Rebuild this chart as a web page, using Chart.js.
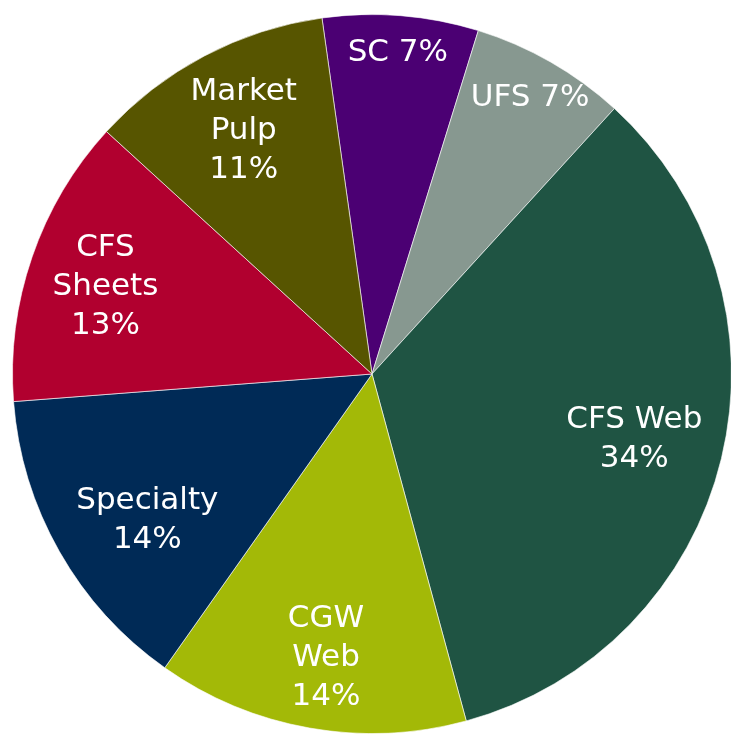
<!DOCTYPE html>
<html>
<head>
<meta charset="utf-8">
<script src="https://cdn.jsdelivr.net/npm/chart.js@4/dist/chart.umd.min.js"></script>
<style>
  html, body { margin: 0; padding: 0; background: #ffffff; overflow: hidden; width: 731px; height: 734px; }
  #wrap { position: absolute; left: 0; top: 0; width: 744px; height: 748px; }
</style>
</head>
<body>
<div id="wrap"><canvas id="c"></canvas></div>
<script>
// Categories (clockwise, starting with SC at the top)
const categories = ["SC", "UFS", "CFS Web", "CGW Web", "Specialty", "CFS Sheets", "Market Pulp"];
// Share of total (%)
const shares = [7, 7, 34, 14, 14, 13, 11];
// How each category name is wrapped in its slice label
const labelLines = [["SC"], ["UFS"], ["CFS Web"], ["CGW", "Web"], ["Specialty"], ["CFS", "Sheets"], ["Market", "Pulp"]];
// Whether the percentage goes on the same line as the name
const pctInline = [true, true, false, false, false, false, false];

const colors = ["#4B0073", "#879890", "#1F5443", "#A3B907", "#002A56", "#B1002F", "#575500"];
const labelRadius = [0.895, 0.885, 0.752, 0.80, 0.746, 0.78, 0.765];
const labelAngleShift = [0, 0, 0.4, -0.8, -3.5, -0.9, 0]; // degrees

const sliceLabels = {
  id: 'sliceLabels',
  afterDatasetsDraw(chart) {
    const ctx = chart.ctx;
    const meta = chart.getDatasetMeta(0);
    ctx.save();
    ctx.fillStyle = '#ffffff';
    ctx.font = '31px "DejaVu Sans", Verdana, sans-serif';
    ctx.textAlign = 'center';
    ctx.textBaseline = 'middle';
    const lh = 39;
    meta.data.forEach((arc, i) => {
      const p = arc.getProps(['x', 'y', 'startAngle', 'endAngle', 'outerRadius'], true);
      const mid = (p.startAngle + p.endAngle) / 2 + labelAngleShift[i] * Math.PI / 180;
      const r = p.outerRadius * labelRadius[i];
      const cx = p.x + Math.cos(mid) * r;
      const cy = p.y + Math.sin(mid) * r;
      const pct = shares[i] + '%';
      let lines = labelLines[i].slice();
      if (pctInline[i]) lines[lines.length - 1] += ' ' + pct; else lines.push(pct);
      const y0 = cy - (lines.length - 1) * lh / 2;
      lines.forEach((t, k) => ctx.fillText(t, cx, y0 + k * lh));
    });
    ctx.restore();
  }
};

new Chart(document.getElementById('c'), {
  type: 'pie',
  data: {
    labels: categories,
    datasets: [{
      data: shares,
      backgroundColor: colors,
      borderColor: 'rgba(255,255,255,0.6)',
      borderWidth: 1
    }]
  },
  options: {
    responsive: true,
    maintainAspectRatio: false,
    animation: false,
    rotation: -8,
    layout: { padding: 12 },
    plugins: { legend: { display: false }, tooltip: { enabled: false } }
  },
  plugins: [sliceLabels]
});
</script>
</body>
</html>
